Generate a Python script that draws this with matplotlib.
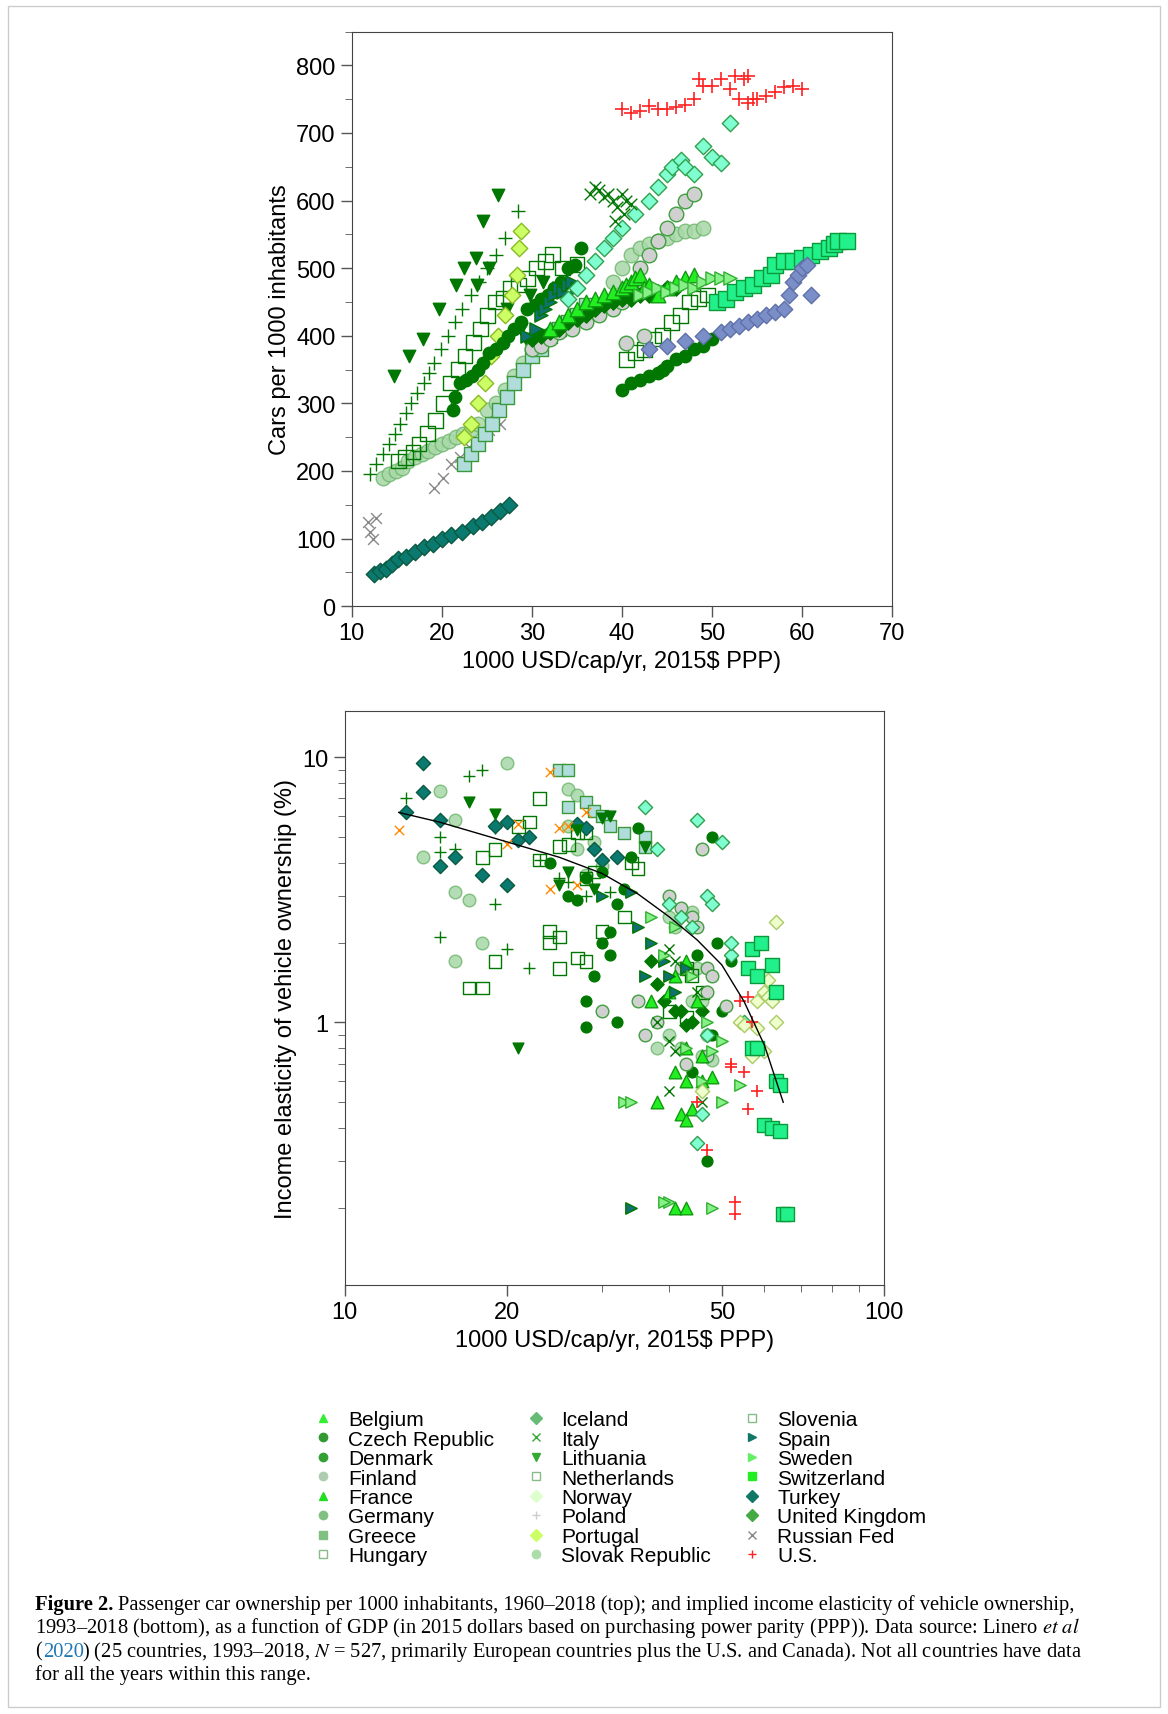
import numpy as np
import matplotlib.pyplot as plt
from matplotlib.lines import Line2D
from matplotlib.patches import Rectangle
from matplotlib.ticker import NullFormatter

plt.rcParams['font.family'] = ['Liberation Sans', 'DejaVu Sans']
plt.rcParams['mathtext.fontset'] = 'stix'

# ---------------- top panel: cars per 1000 vs GDP ----------------
top_us_x = [40, 41, 42, 43, 44, 45, 46, 47, 48, 48.5, 49, 50, 51, 52, 52.5, 53, 53.5, 54, 54, 54.5, 55, 56, 57, 58, 59, 60]
top_us_y = [735, 730, 733, 740, 735, 736, 738, 742, 750, 780, 770, 770, 780, 765, 785, 750, 780, 785, 745, 750, 750, 755, 760, 768, 770, 765]
top_plus_x = [12, 12.7, 13.5, 14.2, 14.8, 15.4, 16, 16.6, 17.3, 18, 18.6, 19.2, 19.9, 20.7, 21.5, 22.3, 23.2, 24.1, 25, 26, 27, 28.5]
top_plus_y = [195, 210, 225, 240, 255, 270, 285, 300, 315, 330, 345, 360, 380, 400, 420, 440, 460, 480, 500, 520, 545, 585]
top_tri_x = [14.7, 16.4, 17.9, 19.7, 21.6, 22.5, 23.8, 24.6, 26.3, 23.9, 25.3, 27.3, 28.8, 29.3, 31.2, 29.8]
top_tri_y = [340, 370, 395, 440, 475, 500, 515, 570, 608, 475, 500, 440, 410, 395, 480, 460]
top_ydia_x = [22.5, 23.2, 24, 24.8, 25.5, 26.3, 27.0, 27.8, 28.4, 28.6, 28.8]
top_ydia_y = [250, 270, 300, 330, 370, 400, 430, 460, 490, 530, 555]
top_osq_x = [15.2, 16, 16.8, 17.5, 18.4, 19.3, 20.2, 21.0, 21.8, 22.6, 23.5, 24.3, 25.1, 26.0, 26.8, 27.6, 28.5, 29.5, 30.5, 31.5, 32.3, 33.4, 35.0,
             40.5, 41.5, 42.5, 43.5, 44.5, 45.5, 46.5, 47.5, 48.5, 49.5]
top_osq_y = [215, 220, 228, 240, 255, 275, 300, 330, 350, 370, 390, 410, 430, 450, 455, 470, 475, 485, 500, 510, 520, 500, 505,
             365, 375, 380, 395, 400, 420, 430, 450, 455, 460]
top_dcir_x = [21.2, 21.5, 22, 22.7, 23.4, 24, 24.6, 25.3, 26, 26.8, 27.4, 28, 28.8, 29.5, 30.3, 31, 31.8, 32.5, 33.2, 34, 34.8, 35.5,
              40, 41, 42, 43, 44, 44.5, 45, 46, 47, 48, 49, 50]
top_dcir_y = [290, 310, 330, 335, 340, 350, 360, 375, 380, 390, 400, 410, 420, 440, 445, 455, 460, 470, 480, 500, 505, 530,
              320, 330, 335, 340, 345, 350, 355, 365, 370, 380, 385, 395]
top_lcir_x = [13.5, 14.2, 14.9, 15.6, 16.3, 17, 17.8, 18.5, 19.3, 20, 20.8, 21.6, 22.4, 23.2, 24, 25, 26, 27, 28, 29, 30,
              39, 40, 41, 42, 43, 44, 45, 46, 47, 48, 49]
top_lcir_y = [190, 195, 200, 205, 215, 220, 225, 230, 235, 240, 245, 250, 255, 260, 270, 290, 300, 320, 340, 360, 380,
              480, 500, 520, 530, 535, 540, 545, 550, 555, 555, 560]
top_lsq_x = [22.5, 23.3, 24, 24.8, 25.6, 26.4, 27.2, 28, 29, 30, 31, 32, 33, 34, 35, 36]
top_lsq_y = [210, 225, 240, 255, 270, 290, 310, 330, 350, 370, 380, 400, 410, 420, 430, 445]
top_rx_x = [11.8, 12.1, 12.4, 12.7, 19.2, 20.1, 21, 22, 23, 24, 25.2, 26.5]
top_rx_y = [125, 110, 100, 130, 175, 190, 210, 220, 235, 245, 260, 270]
top_tdia_x = [12.5, 13.2, 13.8, 14.5, 15.2, 16, 17, 18, 19, 20, 21, 22.3, 23.5, 24.5, 25.5, 26.5, 27.5]
top_tdia_y = [48, 52, 55, 62, 70, 72, 80, 88, 92, 100, 105, 110, 118, 125, 132, 140, 150]
top_aqua_x = [34, 35, 36, 37, 38, 39, 40, 41.5, 43, 44, 45, 45.5, 46.5, 47, 48, 49, 50, 51, 52]
top_aqua_y = [455, 470, 490, 510, 530, 545, 560, 580, 600, 620, 640, 650, 660, 650, 640, 680, 665, 655, 715]
top_ita_x = [36.5, 37, 37.5, 38, 38.5, 39, 39.5, 40, 40.5, 41, 39.2, 40.2]
top_ita_y = [610, 620, 615, 605, 610, 600, 590, 610, 600, 595, 570, 580]
top_gcir_x = [30, 31, 32, 33, 34.5, 36, 37.5, 39, 40, 41, 42, 43, 44, 45, 46, 47, 48, 40.5, 42.5]
top_gcir_y = [380, 385, 395, 405, 410, 420, 430, 440, 450, 470, 500, 520, 540, 560, 580, 600, 610, 390, 400]
top_btri_x = [32, 33, 34, 35, 36, 37, 38, 39, 40, 40.5, 41, 41.5, 42, 42.5, 43, 44, 45, 46, 47, 48]
top_btri_y = [410, 420, 430, 440, 450, 455, 460, 465, 470, 475, 480, 485, 490, 470, 475, 460, 470, 480, 485, 490]
top_lrt_x = [42, 43, 44, 45, 46, 47, 48, 49, 50, 51, 52]
top_lrt_y = [460, 465, 470, 465, 470, 475, 470, 480, 485, 485, 485]
top_srt_x = [29.5, 30.5, 31, 31.5, 32, 32.5, 33, 33.5, 34, 34.5, 35]
top_srt_y = [400, 410, 430, 440, 450, 460, 470, 465, 475, 480, 470]
top_sw_x = [50.5, 51.5, 52.5, 53.5, 54.5, 55.5, 56.5, 57, 58, 59, 60, 61, 62, 63, 63.5, 64, 65]
top_sw_y = [450, 455, 465, 470, 475, 485, 490, 505, 510, 510, 515, 520, 525, 530, 535, 540, 540]
top_bdia_x = [43, 45, 47, 49, 51, 52, 53, 54, 55, 56, 57, 58, 58.5, 59, 59.5, 60, 60.5, 61]
top_bdia_y = [380, 385, 392, 400, 405, 410, 415, 420, 425, 430, 435, 440, 460, 480, 490, 500, 505, 460]
top_ddia_x = [30, 31, 32, 33, 34, 35, 36, 37, 38, 39, 40, 41, 42, 43, 44, 45, 46]
top_ddia_y = [395, 400, 405, 410, 420, 425, 430, 440, 445, 450, 455, 455, 460, 460, 465, 470, 470]

# ---------------- bottom panel: elasticity vs GDP ----------------
bot_us_x = [54, 56, 57, 52, 55, 58, 56, 45, 47, 53, 53, 52]
bot_us_y = [1.2, 1.25, 1.0, 0.7, 0.65, 0.55, 0.47, 0.5, 0.33, 0.21, 0.19, 0.68]
bot_sw_x = [57, 59, 56, 58, 62, 63, 57, 58, 63, 64, 60, 62, 64, 65, 66]
bot_sw_y = [1.9, 2.0, 1.6, 1.5, 1.65, 1.3, 0.8, 0.8, 0.6, 0.58, 0.41, 0.4, 0.39, 0.19, 0.19]
bot_ndia_x = [63, 60, 61, 58, 62, 63, 57, 60, 58, 54, 55, 46, 61]
bot_ndia_y = [2.4, 1.3, 1.25, 1.2, 1.2, 1.0, 0.75, 0.78, 0.95, 1.0, 0.98, 0.55, 1.45]
bot_aqua_x = [36, 45, 50, 47, 48, 55, 42, 44, 52, 46, 47, 45, 40, 38, 52]
bot_aqua_y = [6.5, 5.8, 4.8, 3.0, 2.8, 1.0, 2.5, 2.3, 1.8, 0.45, 0.9, 0.35, 2.8, 4.5, 2.0]
bot_gcir_x = [46, 35, 40, 42, 44, 45, 42, 47, 48, 38, 36, 47, 47, 30, 43, 51]
bot_gcir_y = [4.5, 1.2, 3.0, 2.7, 2.5, 2.3, 1.6, 1.6, 1.5, 1.0, 0.9, 0.75, 1.3, 1.1, 0.7, 1.15]
bot_lcir_x = [15, 16, 14, 16, 17, 18, 16, 20, 26, 27, 26, 27, 30, 40, 41, 44, 45, 38, 40, 42, 47, 46, 48, 44, 46, 28, 29]
bot_lcir_y = [7.5, 5.8, 4.2, 3.1, 2.9, 2.0, 1.7, 9.5, 7.6, 7.2, 5.5, 4.5, 3.9, 2.5, 2.3, 2.6, 1.6, 0.8, 0.9, 0.8, 0.9, 0.75, 0.72, 1.2, 1.2, 3.6, 4.8]
bot_dcir_x = [24, 26, 27, 28, 30, 33, 32, 31, 30, 31, 29, 28, 32, 35, 34, 28, 48, 45, 49, 52, 48, 44, 47, 50]
bot_dcir_y = [4.0, 3.0, 2.9, 3.5, 3.7, 3.2, 2.8, 2.2, 2.0, 1.8, 1.5, 1.2, 1.0, 5.4, 4.2, 0.96, 5.0, 1.8, 2.0, 1.7, 0.9, 0.65, 0.3, 1.1]
bot_osq_x = [23, 21, 22, 18, 19, 23, 25, 26, 28, 27, 29, 28, 24, 25, 24, 25, 19, 17, 18, 30, 27, 28, 34, 35, 33, 43, 44, 46, 40, 43]
bot_osq_y = [7.0, 5.5, 5.7, 4.2, 4.5, 4.1, 4.6, 4.7, 5.2, 5.2, 3.7, 3.5, 2.2, 2.1, 2.0, 1.6, 1.7, 1.35, 1.35, 2.2, 1.75, 1.7, 4.0, 3.8, 2.5, 1.6, 1.5, 1.3, 1.1, 1.05]
bot_lsq_x = [25, 26, 26, 28, 29, 30, 31, 33, 36, 36]
bot_lsq_y = [9.0, 9.0, 6.5, 6.8, 6.3, 6.0, 5.5, 5.2, 5.0, 4.6]
bot_plus_x = [13, 17, 18, 19, 15, 15, 16, 19, 15, 20, 22, 23, 26, 25, 31, 28]
bot_plus_y = [7.0, 8.5, 9.0, 5.4, 5.0, 4.4, 4.5, 2.8, 2.1, 1.9, 1.6, 4.1, 3.4, 3.5, 3.1, 3.0]
bot_tri_x = [17, 19, 30, 31, 27, 29, 25, 26, 21, 36]
bot_tri_y = [6.8, 6.1, 5.9, 6.0, 5.3, 3.2, 3.3, 3.7, 0.8, 4.6]
bot_ox_x = [12.6, 24, 20, 21, 25, 26, 28, 24, 27]
bot_ox_y = [5.3, 8.8, 4.7, 5.6, 5.4, 5.5, 6.2, 3.2, 3.3]
bot_tdia_x = [14, 14, 13, 15, 16, 15, 19, 20, 21, 22, 27, 28, 29, 30, 32, 20, 18]
bot_tdia_y = [9.5, 7.4, 6.2, 5.8, 4.2, 3.9, 5.5, 5.7, 4.9, 5.0, 5.6, 5.4, 4.5, 4.1, 4.2, 3.3, 3.6]
bot_srt_x = [34, 35, 37, 39, 40, 41, 43, 36, 34, 30]
bot_srt_y = [3.1, 2.3, 2.0, 1.7, 1.5, 1.3, 1.6, 1.5, 0.2, 3.0]
bot_btri_x = [40, 41, 43, 45, 43, 46, 41, 43, 46, 48, 44, 42, 43, 41, 43, 38, 37]
bot_btri_y = [1.3, 1.5, 1.7, 1.2, 0.8, 0.75, 0.65, 0.6, 0.6, 0.62, 0.47, 0.45, 0.43, 0.2, 0.2, 0.5, 1.2]
bot_lrt_x = [37, 41, 39, 44, 47, 50, 48, 43, 46, 50, 33, 34, 40, 48, 54, 39]
bot_lrt_y = [2.5, 2.3, 1.8, 1.5, 1.0, 0.85, 0.78, 0.8, 0.6, 0.5, 0.5, 0.5, 0.21, 0.2, 0.58, 0.21]
bot_ita_x = [40, 41, 45, 40, 41, 40, 46, 38]
bot_ita_y = [1.9, 1.7, 1.3, 0.85, 0.78, 0.55, 0.5, 1.0]
bot_ddia_x = [37, 38, 39, 41, 42, 43, 46, 44]
bot_ddia_y = [1.7, 1.4, 1.2, 1.1, 1.1, 0.98, 1.1, 1.0]

fit_x = [12.6, 15, 20, 25, 30, 35, 40, 45, 50, 55, 60, 65]
fit_y = [6.2, 5.7, 4.8, 4.2, 3.65, 3.05, 2.5, 2.05, 1.65, 1.2, 0.82, 0.5]

# ---------------- legend ----------------
leg_names = ['Belgium', 'Czech Republic', 'Denmark', 'Finland', 'France', 'Germany', 'Greece', 'Hungary',
             'Iceland', 'Italy', 'Lithuania', 'Netherlands', 'Norway', 'Poland', 'Portugal', 'Slovak Republic',
             'Slovenia', 'Spain', 'Sweden', 'Switzerland', 'Turkey', 'United Kingdom', 'Russian Fed', 'U.S.']
leg_markers = ['^', 'o', 'o', 'o', '^', 'o', 's', 's', 'D', 'x', 'v', 's', 'D', '+', 'D', 'o',
               's', '>', '>', 's', 'D', 'D', 'x', '+']
leg_colors = ['#33ee33', '#339933', '#33a033', '#b0ccb0', '#22dd22', '#80c080', '#80c080', 'none',
              '#66bb77', '#33aa33', '#33aa33', 'none', '#ddffcc', '#cccccc', '#ccff66', '#aaddaa',
              'none', '#117766', '#66ee66', '#22ee22', '#117766', '#44aa44', '#888888', '#ff2222']

DG = '#007700'
styles = {
    'us': dict(marker='+', c='#ff2020', s=110, linewidths=1.2),
    'plus': dict(marker='+', c=DG, s=90, linewidths=1.0),
    'tri': dict(marker='v', c=DG, s=80, edgecolors=DG),
    'ydia': dict(marker='D', c='#ccff66', s=70, edgecolors='#88bb22'),
    'ndia': dict(marker='D', c='#eeffcc', s=70, edgecolors='#aacc66'),
    'osq': dict(marker='s', facecolors='none', s=110, edgecolors=DG, linewidths=1.0),
    'dcir': dict(marker='o', c=DG, s=80, edgecolors=DG),
    'lcir': dict(marker='o', c='#a8d8a8', s=110, edgecolors='#70b870', alpha=0.85),
    'lsq': dict(marker='s', c='#b0dcdc', s=110, edgecolors='#3a9a3a'),
    'rx': dict(marker='x', c='#888888', s=60, linewidths=1.0),
    'ox': dict(marker='x', c='#ff8800', s=60, linewidths=1.0),
    'tdia': dict(marker='D', c='#0a7a70', s=70, edgecolors='#0a5a40'),
    'aqua': dict(marker='D', c='#80ffd0', s=70, edgecolors='#30a050'),
    'ita': dict(marker='x', c=DG, s=70, linewidths=1.0),
    'gcir': dict(marker='o', c='#d0d0d0', s=110, edgecolors='#40a040'),
    'btri': dict(marker='^', c='#22ee22', s=110, edgecolors='#119911'),
    'lrt': dict(marker='>', c='#88f088', s=90, edgecolors='#30b030'),
    'srt': dict(marker='>', c='#117070', s=90, edgecolors=DG),
    'sw': dict(marker='s', c='#22f08a', s=130, edgecolors='#0a9a3a'),
    'bdia': dict(marker='D', c='#7a8fc8', s=70, edgecolors='#6070a8'),
    'ddia': dict(marker='D', c=DG, s=60, edgecolors=DG),
}

fig = plt.figure(figsize=(11.68, 17.15), dpi=100)

# top
ax1 = fig.add_axes([0.301, 0.646, 0.463, 0.335])
top = [('plus', top_plus_x, top_plus_y), ('rx', top_rx_x, top_rx_y), ('lcir', top_lcir_x, top_lcir_y),
       ('osq', top_osq_x, top_osq_y), ('lsq', top_lsq_x, top_lsq_y), ('tdia', top_tdia_x, top_tdia_y),
       ('tri', top_tri_x, top_tri_y), ('ydia', top_ydia_x, top_ydia_y), ('dcir', top_dcir_x, top_dcir_y),
       ('gcir', top_gcir_x, top_gcir_y), ('ddia', top_ddia_x, top_ddia_y), ('btri', top_btri_x, top_btri_y),
       ('srt', top_srt_x, top_srt_y), ('lrt', top_lrt_x, top_lrt_y), ('aqua', top_aqua_x, top_aqua_y),
       ('ita', top_ita_x, top_ita_y), ('sw', top_sw_x, top_sw_y), ('bdia', top_bdia_x, top_bdia_y),
       ('us', top_us_x, top_us_y)]
for key, xs, ys in top:
    ax1.scatter(xs, ys, **styles[key])
ax1.set_xlim(10, 70)
ax1.set_ylim(0, 850)
ax1.set_xticks(range(10, 71, 10))
ax1.set_yticks(range(0, 801, 100))
ax1.set_yticks(range(50, 851, 100), minor=True)
ax1.set_xlabel('1000 USD/cap/yr, 2015$ PPP)', fontsize=17)
ax1.set_ylabel('Cars per 1000 inhabitants', fontsize=17)

# bottom
ax2 = fig.add_axes([0.295, 0.250, 0.462, 0.335])
bot = [('plus', bot_plus_x, bot_plus_y), ('lcir', bot_lcir_x, bot_lcir_y), ('osq', bot_osq_x, bot_osq_y),
       ('lsq', bot_lsq_x, bot_lsq_y), ('tdia', bot_tdia_x, bot_tdia_y), ('tri', bot_tri_x, bot_tri_y),
       ('ox', bot_ox_x, bot_ox_y), ('dcir', bot_dcir_x, bot_dcir_y), ('gcir', bot_gcir_x, bot_gcir_y),
       ('ddia', bot_ddia_x, bot_ddia_y), ('btri', bot_btri_x, bot_btri_y), ('srt', bot_srt_x, bot_srt_y),
       ('lrt', bot_lrt_x, bot_lrt_y), ('aqua', bot_aqua_x, bot_aqua_y), ('ita', bot_ita_x, bot_ita_y),
       ('ndia', bot_ndia_x, bot_ndia_y), ('sw', bot_sw_x, bot_sw_y), ('us', bot_us_x, bot_us_y)]
for key, xs, ys in bot:
    st = dict(styles[key])
    st['s'] = st['s'] * 0.75
    ax2.scatter(xs, ys, **st)
ax2.plot(fit_x, fit_y, color='black', lw=1.0)
ax2.set_xscale('log')
ax2.set_yscale('log')
ax2.set_xlim(10, 100)
ax2.set_ylim(0.102, 15)
ax2.set_xticks([10, 20, 50, 100])
ax2.set_xticklabels(['10', '20', '50', '100'])
ax2.set_yticks([1, 10])
ax2.set_yticklabels(['1', '10'])
ax2.xaxis.set_minor_formatter(NullFormatter())
ax2.yaxis.set_minor_formatter(NullFormatter())
ax2.set_xlabel('1000 USD/cap/yr, 2015$ PPP)', fontsize=17)
ax2.set_ylabel('Income elasticity of vehicle ownership (%)', fontsize=17)

for ax in (ax1, ax2):
    ax.tick_params(labelsize=17, direction='out', length=8, width=1, color='#555555')
    ax.tick_params(which='minor', length=5, color='#555555')
    for sp in ax.spines.values():
        sp.set_color('#444444')

# legend
handles = []
for name, m, col in zip(leg_names, leg_markers, leg_colors):
    ec = '#88bb88' if col == 'none' else col
    handles.append(Line2D([], [], ls='none', marker=m, markersize=6, markerfacecolor=col,
                          markeredgecolor=ec, color=col, label=name))
fig.legend(handles=handles, loc='upper left', bbox_to_anchor=(0.250, 0.188), ncol=3, frameon=False,
           fontsize=15, handletextpad=0.6, columnspacing=1.4, labelspacing=0.02, handlelength=1.2)

# caption
cap = dict(fontsize=14.8, family=['Liberation Serif', 'DejaVu Serif'], transform=fig.transFigure)
fig.text(0.030, 0.0615, 'Figure 2.', fontweight='bold', **cap)
fig.text(0.101, 0.0615, 'Passenger car ownership per 1000 inhabitants, 1960–2018 (top); and implied income elasticity of vehicle ownership,', **cap)
fig.text(0.030, 0.0478, r'1993–2018 (bottom), as a function of GDP (in 2015 dollars based on purchasing power parity (PPP)). Data source: Linero $\it{et\ al}$', **cap)
fig.text(0.030, 0.0341, '(', **cap)
fig.text(0.0365, 0.0341, '2020', color='#1f77b4', **cap)
fig.text(0.0705, 0.0341, r') (25 countries, 1993–2018, $N$ = 527, primarily European countries plus the U.S. and Canada). Not all countries have data', **cap)
fig.text(0.030, 0.0204, 'for all the years within this range.', **cap)

fig.add_artist(Rectangle((0.007, 0.004), 0.986, 0.992, transform=fig.transFigure, fill=False,
                         edgecolor='#cccccc', lw=1))

fig.savefig('out.png', dpi=100)
